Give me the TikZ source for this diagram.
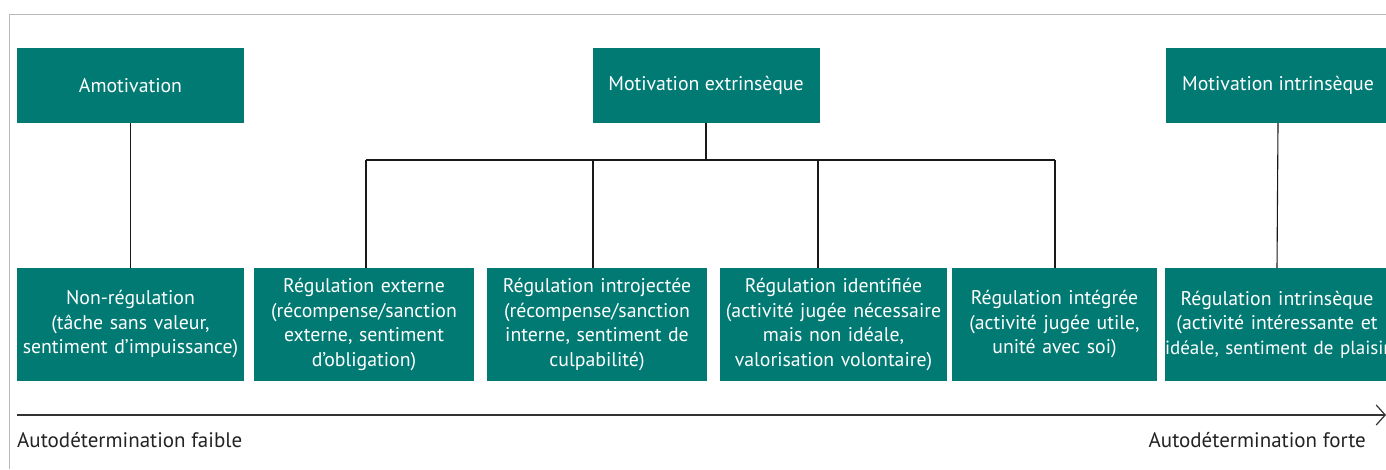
\documentclass[tikz,border=0pt]{standalone}
\usepackage{fontspec}
\setmainfont{PT Sans}
\usetikzlibrary{arrows.meta}
\definecolor{teal1}{RGB}{0,122,115}
\definecolor{frame1}{RGB}{185,185,185}
\definecolor{txt1}{RGB}{35,35,35}
\tikzset{
  box/.style={fill=teal1, text=white, inner sep=0pt, align=center,
    font=\fontsize{19.8}{24.5}\selectfont},
  topbox/.style={box, minimum width=227pt, minimum height=75pt},
  botbox/.style={box, minimum height=113pt, minimum width=#1, text width=#1},
  conn/.style={draw=black!90, line width=1.1pt},
  lbl/.style={text=txt1, inner sep=0pt, font=\fontsize{21}{24}\selectfont}
}
\begin{document}
\begin{tikzpicture}[x=1pt,y=-1pt]
\useasboundingbox (0,0) rectangle (1386,469);
\clip (0,0) rectangle (1386,469);
% frame
\draw[frame1, line width=1.5pt] (9.5,469) -- (9.5,14.5) -- (1390,14.5);
% top boxes
\node[topbox] (amo) at (130.5,85.5) {Amotivation};
\node[topbox] (ext) at (706,85.5) {Motivation extrinsèque};
\node[topbox, minimum width=224pt] (int) at (1278,85.5) {Motivation intrinsèque};
% bottom boxes
\node[botbox=227pt] (nonr) at (130.5,324.5) {Non-régulation\\(tâche sans valeur,\\sentiment d’impuissance)};
\node[botbox=220pt] (rext) at (364,324.5) {Régulation externe\\(récompense/sanction\\externe, sentiment\\d’obligation)};
\node[botbox=220pt] (rintro) at (597,324.5) {Régulation introjectée\\(récompense/sanction\\interne, sentiment de\\culpabilité)};
\node[botbox=227pt] (rid) at (833.5,324.5) {Régulation identifiée\\(activité jugée nécessaire\\mais non idéale,\\valorisation volontaire)};
\node[botbox=205pt] (rinteg) at (1054.5,324.5) {Régulation intégrée\\(activité jugée utile,\\unité avec soi)};
\node[botbox=224pt] (rintr) at (1277,324.5) {Régulation intrinsèque\\(activité intéressante et\\\mbox{\fontsize{19}{24.5}\selectfont idéale, sentiment de plaisir)}};
% connectors
\coordinate (h1) at (366,160);
\coordinate (h2) at (593,160);
\coordinate (h3) at (818,160);
\coordinate (h4) at (1055,160);
\draw[conn] (amo.south) -- (nonr.north);
\draw[conn] (int.south) -- (rintr.north);
\draw[conn] (ext.south) -- (ext.south |- h1);
\draw[conn] (h1) -- (h4);
\draw[conn] (h1) -- (h1 |- rext.north);
\draw[conn] (h2) -- (h2 |- rintro.north);
\draw[conn] (h3) -- (h3 |- rid.north);
\draw[conn] (h4) -- (h4 |- rinteg.north);
% axis
\coordinate (a0) at (17,415);
\coordinate (a1) at (1386,415);
\draw[draw=black!80, line width=1.2pt, -{Straight Barb[length=9pt,width=20pt,line width=1.2pt]}] (a0) -- (a1);
\node[lbl, anchor=west] (low) at (17,440) {Autodétermination faible};
\node[lbl, anchor=east] (high) at (1366,440) {Autodétermination forte};
\end{tikzpicture}
\end{document}
